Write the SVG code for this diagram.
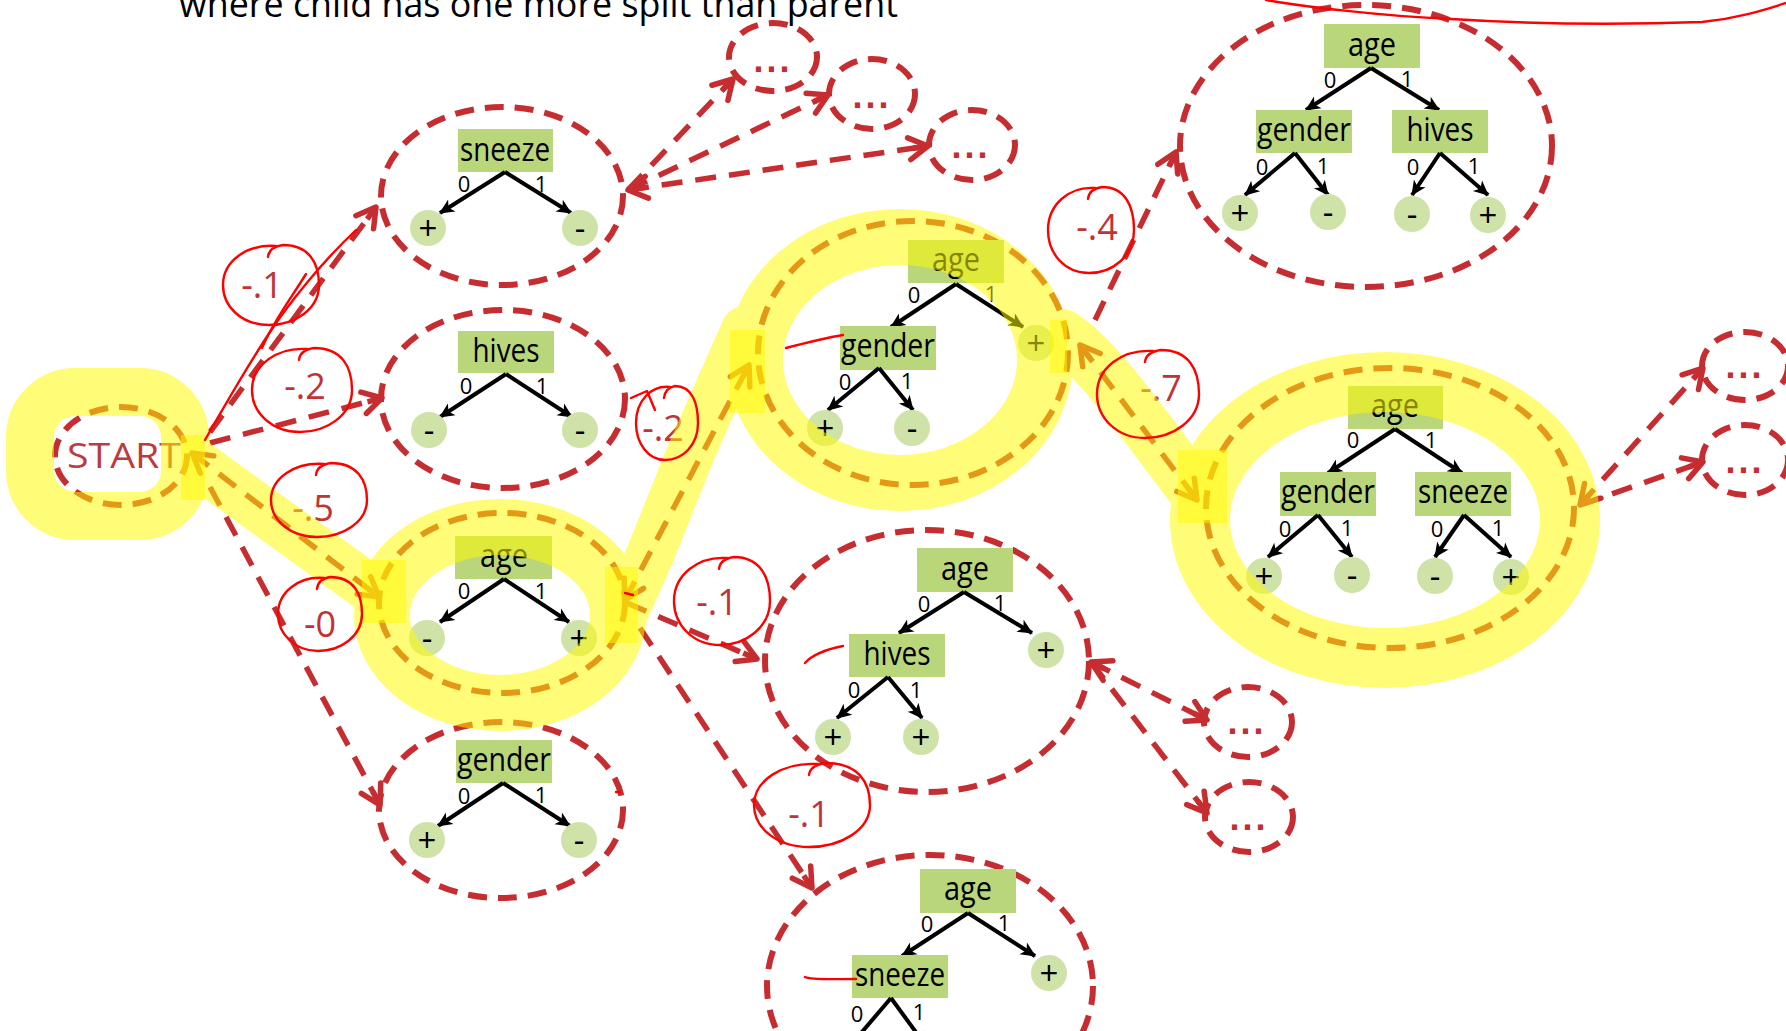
<svg xmlns="http://www.w3.org/2000/svg" width="1786" height="1031" viewBox="0 0 1786 1031">
<style>
.dash{fill:none;stroke:#c62d31;stroke-width:6;stroke-dasharray:19 11}
.conn{fill:none;stroke:#c62d31;stroke-width:5.5;stroke-dasharray:21 13;marker-end:url(#ra)}
.both{marker-start:url(#ra)}
.box{fill:#bad67a}
.leaf{fill:#cfe3a8}
.edge{fill:none;stroke:#000;stroke-width:4;marker-end:url(#ah)}
.t{font-family:'Open Sans','Liberation Sans',sans-serif;text-anchor:middle;fill:#000}
.name{font-size:32px}
.bit{font-size:22px}
.sym{font-size:33px}
.dots{font-family:'Liberation Sans',sans-serif;font-weight:bold;font-size:36px;letter-spacing:3px;text-anchor:middle;fill:#c62d31}
.val{font-family:'Open Sans','Liberation Sans',sans-serif;font-size:36px;text-anchor:middle;fill:#bf3436}
.pen{fill:none;stroke:#ff0000;stroke-width:2.4;stroke-linecap:round;stroke-linejoin:round}
</style>
<defs>
<marker id="ah" markerUnits="userSpaceOnUse" markerWidth="18" markerHeight="16" refX="14" refY="8" orient="auto" viewBox="0 0 18 16" overflow="visible"><path d="M0,1 L15,8 L0,15 L4,8 z" fill="#000"/></marker>
<marker id="ra" markerUnits="userSpaceOnUse" markerWidth="30" markerHeight="30" refX="24" refY="15" orient="auto-start-reverse" viewBox="0 0 30 30" overflow="visible"><path d="M5,4 L24,15 L5,26" fill="none" stroke="#c62d31" stroke-width="5.5" stroke-linecap="round" stroke-linejoin="round"/><path d="M9,15 L24,15" stroke="#c62d31" stroke-width="5.5"/></marker>
</defs>
<rect width="1786" height="1031" fill="#fff"/>
<text x="179" y="17" font-family="'Open Sans','Liberation Sans',sans-serif" font-size="36" textLength="719" lengthAdjust="spacingAndGlyphs" fill="#000">where child has one more split than parent</text>

<g id="connectors">
<path class="conn" d="M210,432 L376,207"/>
<path class="conn" d="M210,443 L382,398"/>
<path class="conn both" d="M192,453 L379,597"/>
<path class="conn" d="M210,487 L380,805"/>
<path class="conn" d="M628,190 L733,79"/>
<path class="conn" d="M628,190 L828,95"/>
<path class="conn both" d="M628,190 L928,146"/>
<path class="conn both" d="M625,600 L749,365"/>
<path class="conn" d="M627,603 L757,659"/>
<path class="conn" d="M640,628 L812,888"/>
<path class="conn" d="M1095,320 L1176,152"/>
<path class="conn both" d="M1080,345 L1197,500"/>
<path class="conn both" d="M1580,505 L1703,368"/>
<path class="conn" d="M1580,505 L1703,462"/>
<path class="conn both" d="M1091,662 L1207,720"/>
<path class="conn" d="M1091,662 L1207,813"/>
</g>

<g id="start">
<ellipse class="dash" cx="121" cy="456" rx="66" ry="49"/>
<text x="67" y="468" font-family="'Open Sans','Liberation Sans',sans-serif" font-size="35" textLength="114" lengthAdjust="spacingAndGlyphs" fill="#bf3a3c">START</text>
</g>

<g id="node-sneeze">
<ellipse class="dash" cx="502" cy="196" rx="121" ry="89"/>
<rect class="box" x="458" y="129" width="95" height="43"/>
<text class="t name" x="505" y="161" textLength="90" lengthAdjust="spacingAndGlyphs">sneeze</text>
<path class="edge" d="M505,172 L440,213"/><path class="edge" d="M505,172 L571,213"/>
<text class="t bit" x="464" y="192">0</text><text class="t bit" x="541" y="192">1</text>
<ellipse class="leaf" cx="428" cy="228" rx="18" ry="18"/><text class="t sym" x="428" y="240">+</text>
<ellipse class="leaf" cx="580" cy="228" rx="18" ry="18"/><text class="t sym" x="580" y="240">-</text>
</g>

<g id="node-hives">
<ellipse class="dash" cx="503" cy="399" rx="122" ry="89"/>
<rect class="box" x="458" y="331" width="96" height="42"/>
<text class="t name" x="506" y="362" textLength="67" lengthAdjust="spacingAndGlyphs">hives</text>
<path class="edge" d="M506,374 L440,417"/><path class="edge" d="M506,374 L572,417"/>
<text class="t bit" x="466" y="394">0</text><text class="t bit" x="542" y="394">1</text>
<ellipse class="leaf" cx="429" cy="430" rx="18" ry="18"/><text class="t sym" x="429" y="442">-</text>
<ellipse class="leaf" cx="580" cy="430" rx="18" ry="18"/><text class="t sym" x="580" y="442">-</text>
</g>

<g id="node-age">
<ellipse class="dash" cx="502" cy="603" rx="123" ry="90"/>
<rect class="box" x="455" y="536" width="97" height="43"/>
<text class="t name" x="504" y="567" textLength="48" lengthAdjust="spacingAndGlyphs">age</text>
<path class="edge" d="M504,579 L440,622"/><path class="edge" d="M504,579 L569,622"/>
<text class="t bit" x="464" y="599">0</text><text class="t bit" x="541" y="599">1</text>
<ellipse class="leaf" cx="427" cy="638" rx="18" ry="18"/><text class="t sym" x="427" y="650">-</text>
<ellipse class="leaf" cx="579" cy="638" rx="18" ry="18"/><text class="t sym" x="579" y="650">+</text>
</g>

<g id="node-gender">
<ellipse class="dash" cx="501" cy="810" rx="122" ry="88"/>
<rect class="box" x="456" y="740" width="96" height="43"/>
<text class="t name" x="504" y="771" textLength="94" lengthAdjust="spacingAndGlyphs">gender</text>
<path class="edge" d="M503,783 L438,826"/><path class="edge" d="M503,783 L570,826"/>
<text class="t bit" x="464" y="804">0</text><text class="t bit" x="541" y="803">1</text>
<ellipse class="leaf" cx="427" cy="840" rx="18" ry="18"/><text class="t sym" x="427" y="852">+</text>
<ellipse class="leaf" cx="579" cy="840" rx="18" ry="18"/><text class="t sym" x="579" y="852">-</text>
</g>

<g id="node-age-gender">
<ellipse class="dash" cx="913" cy="353" rx="155" ry="132"/>
<rect class="box" x="908" y="240" width="96" height="43"/>
<text class="t name" x="956" y="271" textLength="48" lengthAdjust="spacingAndGlyphs">age</text>
<path class="edge" d="M956,284 L891,327"/><path class="edge" d="M956,284 L1023,327"/>
<text class="t bit" x="914" y="303">0</text><text class="t bit" x="991" y="302">1</text>
<rect class="box" x="840" y="326" width="96" height="44"/>
<text class="t name" x="888" y="357" textLength="94" lengthAdjust="spacingAndGlyphs">gender</text>
<path class="edge" d="M879,368 L828,410"/><path class="edge" d="M879,368 L913,410"/>
<text class="t bit" x="845" y="390">0</text><text class="t bit" x="907" y="389">1</text>
<ellipse class="leaf" cx="825" cy="428" rx="18" ry="18"/><text class="t sym" x="825" y="440">+</text>
<ellipse class="leaf" cx="912" cy="428" rx="18" ry="18"/><text class="t sym" x="912" y="440">-</text>
<ellipse class="leaf" cx="1036" cy="343" rx="18" ry="18"/><text class="t sym" x="1036" y="355">+</text>
</g>

<g id="node-age-gender-hives">
<ellipse class="dash" cx="1366" cy="146" rx="186" ry="141"/>
<rect class="box" x="1324" y="24" width="96" height="44"/>
<text class="t name" x="1372" y="56" textLength="48" lengthAdjust="spacingAndGlyphs">age</text>
<path class="edge" d="M1371,68 L1306,110"/><path class="edge" d="M1371,68 L1439,110"/>
<text class="t bit" x="1330" y="88">0</text><text class="t bit" x="1407" y="87">1</text>
<rect class="box" x="1256" y="110" width="96" height="43"/>
<text class="t name" x="1304" y="141" textLength="94" lengthAdjust="spacingAndGlyphs">gender</text>
<rect class="box" x="1392" y="110" width="96" height="43"/>
<text class="t name" x="1440" y="141" textLength="67" lengthAdjust="spacingAndGlyphs">hives</text>
<path class="edge" d="M1295,153 L1245,195"/><path class="edge" d="M1295,153 L1328,195"/>
<text class="t bit" x="1262" y="175">0</text><text class="t bit" x="1323" y="174">1</text>
<path class="edge" d="M1440,153 L1412,195"/><path class="edge" d="M1440,153 L1488,195"/>
<text class="t bit" x="1413" y="175">0</text><text class="t bit" x="1474" y="174">1</text>
<ellipse class="leaf" cx="1240" cy="213" rx="18" ry="18"/><text class="t sym" x="1240" y="225">+</text>
<ellipse class="leaf" cx="1328" cy="212" rx="18" ry="18"/><text class="t sym" x="1328" y="224">-</text>
<ellipse class="leaf" cx="1412" cy="214" rx="18" ry="18"/><text class="t sym" x="1412" y="226">-</text>
<ellipse class="leaf" cx="1488" cy="215" rx="18" ry="18"/><text class="t sym" x="1488" y="227">+</text>
</g>

<g id="node-age-gender-sneeze">
<ellipse class="dash" cx="1390" cy="508" rx="184" ry="140"/>
<rect class="box" x="1348" y="386" width="95" height="43"/>
<text class="t name" x="1395" y="417" textLength="48" lengthAdjust="spacingAndGlyphs">age</text>
<path class="edge" d="M1395,429 L1328,473"/><path class="edge" d="M1395,429 L1462,473"/>
<text class="t bit" x="1353" y="448">0</text><text class="t bit" x="1431" y="448">1</text>
<rect class="box" x="1280" y="472" width="96" height="44"/>
<text class="t name" x="1328" y="503" textLength="94" lengthAdjust="spacingAndGlyphs">gender</text>
<rect class="box" x="1415" y="472" width="96" height="44"/>
<text class="t name" x="1463" y="503" textLength="90" lengthAdjust="spacingAndGlyphs">sneeze</text>
<path class="edge" d="M1318,515 L1268,557"/><path class="edge" d="M1318,515 L1352,557"/>
<text class="t bit" x="1285" y="537">0</text><text class="t bit" x="1347" y="536">1</text>
<path class="edge" d="M1464,515 L1435,557"/><path class="edge" d="M1464,515 L1511,557"/>
<text class="t bit" x="1437" y="537">0</text><text class="t bit" x="1498" y="536">1</text>
<ellipse class="leaf" cx="1264" cy="576" rx="18" ry="18"/><text class="t sym" x="1264" y="588">+</text>
<ellipse class="leaf" cx="1352" cy="575" rx="18" ry="18"/><text class="t sym" x="1352" y="587">-</text>
<ellipse class="leaf" cx="1435" cy="576" rx="18" ry="18"/><text class="t sym" x="1435" y="588">-</text>
<ellipse class="leaf" cx="1511" cy="577" rx="18" ry="18"/><text class="t sym" x="1511" y="589">+</text>
</g>

<g id="node-age-hives">
<ellipse class="dash" cx="927" cy="661" rx="162" ry="131"/>
<rect class="box" x="917" y="548" width="96" height="44"/>
<text class="t name" x="965" y="580" textLength="48" lengthAdjust="spacingAndGlyphs">age</text>
<path class="edge" d="M964,592 L899,633"/><path class="edge" d="M964,592 L1032,633"/>
<text class="t bit" x="924" y="612">0</text><text class="t bit" x="1000" y="611">1</text>
<rect class="box" x="849" y="634" width="96" height="43"/>
<text class="t name" x="897" y="665" textLength="67" lengthAdjust="spacingAndGlyphs">hives</text>
<path class="edge" d="M888,677 L837,718"/><path class="edge" d="M888,677 L922,718"/>
<text class="t bit" x="854" y="698">0</text><text class="t bit" x="916" y="698">1</text>
<ellipse class="leaf" cx="833" cy="737" rx="18" ry="18"/><text class="t sym" x="833" y="749">+</text>
<ellipse class="leaf" cx="921" cy="737" rx="18" ry="18"/><text class="t sym" x="921" y="749">+</text>
<ellipse class="leaf" cx="1046" cy="650" rx="18" ry="18"/><text class="t sym" x="1046" y="662">+</text>
</g>

<g id="node-age-sneeze">
<ellipse class="dash" cx="930" cy="986" rx="163" ry="131"/>
<rect class="box" x="920" y="869" width="96" height="44"/>
<text class="t name" x="968" y="900" textLength="48" lengthAdjust="spacingAndGlyphs">age</text>
<path class="edge" d="M968,913 L902,956"/><path class="edge" d="M968,913 L1035,956"/>
<text class="t bit" x="927" y="932">0</text><text class="t bit" x="1004" y="931">1</text>
<rect class="box" x="852" y="955" width="96" height="43"/>
<text class="t name" x="900" y="986" textLength="90" lengthAdjust="spacingAndGlyphs">sneeze</text>
<path class="edge" d="M891,998 L850,1046"/><path class="edge" d="M891,998 L926,1046"/>
<text class="t bit" x="857" y="1022">0</text><text class="t bit" x="919" y="1020">1</text>
<ellipse class="leaf" cx="1049" cy="973" rx="18" ry="18"/><text class="t sym" x="1049" y="985">+</text>
</g>

<g id="more-1"><ellipse class="dash" cx="773" cy="57" rx="44" ry="34"/><text class="dots" x="773" y="72">...</text></g>
<g id="more-2"><ellipse class="dash" cx="872" cy="94" rx="43" ry="35"/><text class="dots" x="872" y="108">...</text></g>
<g id="more-3"><ellipse class="dash" cx="972" cy="145" rx="43" ry="35"/><text class="dots" x="971" y="158">...</text></g>
<g id="more-4"><ellipse class="dash" cx="1745" cy="366" rx="43" ry="34"/><text class="dots" x="1745" y="378">...</text></g>
<g id="more-5"><ellipse class="dash" cx="1745" cy="460" rx="43" ry="35"/><text class="dots" x="1745" y="473">...</text></g>
<g id="more-6"><ellipse class="dash" cx="1248" cy="722" rx="44" ry="35"/><text class="dots" x="1247" y="734">...</text></g>
<g id="more-7"><ellipse class="dash" cx="1249" cy="817" rx="44" ry="35"/><text class="dots" x="1249" y="830">...</text></g>

<g id="scores">
<text class="val" x="262" y="298">-.1</text>
<text class="val" x="305" y="399">-.2</text>
<text class="val" x="313" y="521">-.5</text>
<text class="val" x="320" y="637">-0</text>
<text class="val" x="663" y="441">-.2</text>
<text class="val" x="1097" y="240">-.4</text>
<text class="val" x="1161" y="401">-.7</text>
<text class="val" x="717" y="615">-.1</text>
<text class="val" x="809" y="827">-.1</text>
</g>

<g id="highlight" opacity="0.53" fill="none" stroke="#fffa00" stroke-linecap="round" stroke-linejoin="round">
<rect x="30" y="392" width="155" height="124" rx="45" stroke-width="48"/>
<path d="M195,462 L372,590" stroke-width="48"/>
<ellipse cx="500" cy="615" rx="118" ry="88" stroke-width="56"/>
<path d="M612,640 L650,555 L690,455 L725,375 L745,330" stroke-width="48"/>
<ellipse cx="900" cy="360" rx="145" ry="123" stroke-width="56"/>
<path d="M1062,335 C1100,360 1140,420 1205,505" stroke-width="52"/>
<ellipse cx="1385" cy="520" rx="185" ry="138" stroke-width="60"/>
</g>
<g id="highlight-overlap" opacity="0.5" fill="#fffa00">
<rect x="181" y="435" width="24" height="65"/>
<rect x="362" y="560" width="44" height="63"/>
<rect x="605" y="567" width="33" height="76"/>
<rect x="730" y="330" width="35" height="83"/>
<rect x="1050" y="320" width="17" height="53"/>
<rect x="1178" y="450" width="49" height="73"/>
</g>

<g id="pen">
<path class="pen" d="M268,257 Q269,247 283,245 C309,245 319,263 319,285 C319,309 295,325 269,325 C242,325 223,307 223,285 C223,261 247,244 276,246"/>
<path class="pen" d="M299,360 Q300,350 314,348 C342,348 352,367 352,390 C352,415 327,432 300,432 C272,432 252,413 252,390 C252,365 277,347 307,349"/>
<path class="pen" d="M316,475 Q317,465 331,463 C357,463 367,480 367,500 C367,522 343,537 317,537 C290,537 271,520 271,500 C271,478 295,462 324,464"/>
<path class="pen" d="M317,589 Q318,579 330,577 C354,577 362,594 362,614 C362,636 341,651 318,651 C295,651 278,634 278,614 C278,592 299,576 324,578"/>
<path class="pen" d="M664,398 Q665,388 675,386 C692,386 698,403 698,423 C698,445 683,460 665,460 C648,460 636,443 636,423 C636,401 651,385 670,387"/>
<path class="pen" d="M655,410 L647,391 L631,398"/>
<path class="pen" d="M1088,199 Q1089,189 1102,187 C1125,187 1134,206 1134,230 C1134,256 1113,273 1089,273 C1065,273 1048,254 1048,230 C1048,204 1070,186 1095,188"/>
<path class="pen" d="M1145,362 Q1146,352 1161,350 C1189,350 1199,370 1199,394 C1199,420 1173,438 1145,438 C1117,438 1097,418 1097,394 C1097,368 1122,349 1153,351"/>
<path class="pen" d="M719,569 Q720,559 734,557 C760,557 770,577 770,601 C770,627 746,645 720,645 C693,645 674,625 674,601 C674,575 698,556 727,558"/>
<path class="pen" d="M809,775 Q810,765 826,763 C858,763 870,782 870,805 C870,830 841,847 809,847 C777,847 754,828 754,805 C754,780 783,762 818,764"/>
<path class="pen" d="M205,440 C225,405 250,362 270,332 S322,262 356,230"/>
<path class="pen" d="M262,348 C274,320 290,300 306,274"/>
<path class="pen" d="M786,348 C805,343 825,338 843,335"/>
<path class="pen" d="M805,663 C812,655 823,650 843,646"/>
<path class="pen" d="M805,977 C810,980 830,979 856,979"/>
<path class="pen" d="M625,593 L633,595"/>
<path class="pen" d="M616,792 L620,792"/>
<path class="pen" d="M1266,0 C1300,6 1380,16 1451,19 C1530,24 1620,25 1702,22 C1740,18 1767,9 1786,3"/>
</g>
</svg>
